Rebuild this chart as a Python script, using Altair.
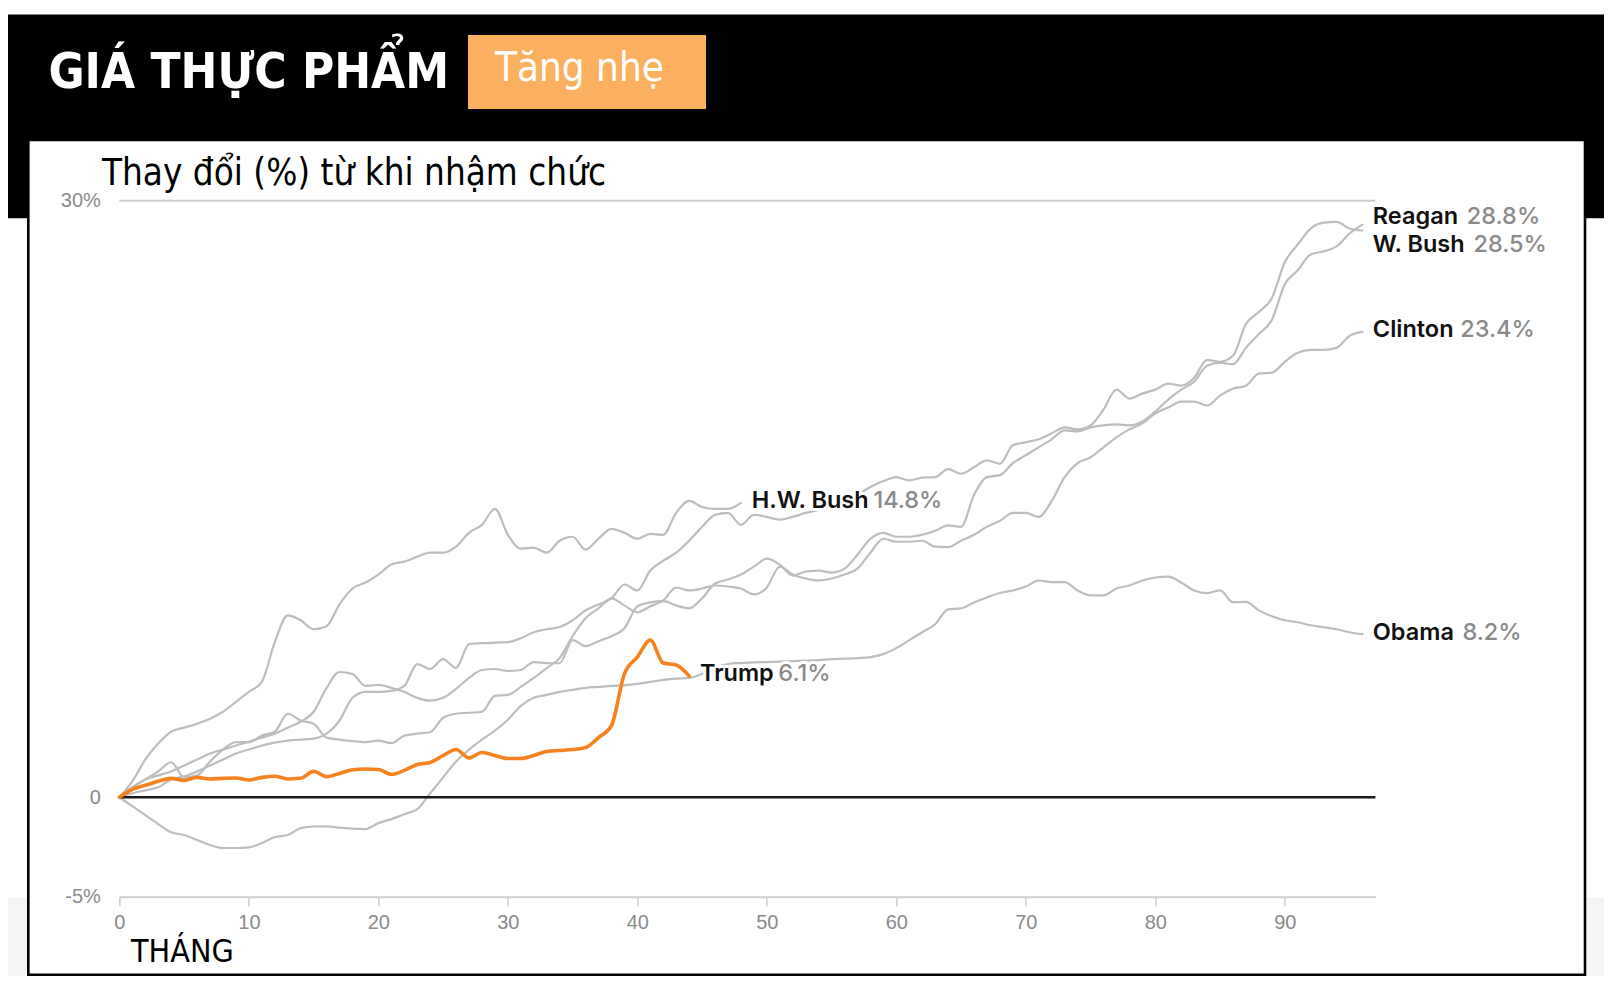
import altair as alt
import pandas as pd

# ---------------- data ----------------
names = ["Reagan", "W. Bush", "Clinton", "Obama", "H.W. Bush", "Trump"]

reagan = [0, 0.5, 0.9, 1.1, 1.3, 1.6, 1.9, 2.2, 2.4, 2.6,
          2.8, 3.0, 3.2, 3.5, 3.8, 4.3, 5.5, 6.3, 6.2, 5.6,
          5.65, 5.5, 5.3, 5.0, 4.86, 5.0, 5.45, 6.0, 6.4, 6.45,
          6.35, 6.4, 6.8, 6.75, 6.74, 7.9, 7.6, 7.85, 8.1, 8.5,
          9.6, 9.8, 9.86, 9.65, 9.5, 10.0, 10.75, 10.95, 11.2, 11.6,
          12.0, 11.7, 11.15, 11.35, 11.4, 11.3, 11.5, 12.2, 13.0, 13.3,
          13.1, 13.1, 13.2, 13.4, 13.67, 13.6, 15.2, 16.1, 16.2, 16.8,
          17.2, 17.6, 18.0, 18.45, 18.4, 18.6, 18.7, 18.75, 18.7, 18.9,
          19.4, 20.0, 20.5, 20.9, 21.7, 21.85, 21.78, 22.6, 23.3, 24.0,
          25.8, 26.5, 27.3, 27.45, 27.7, 28.35, 28.8]

wbush = [0, 0.2, 0.35, 0.5, 0.9, 1.05, 1.3, 1.6, 1.9, 2.2,
         2.4, 2.6, 2.75, 2.85, 2.9, 2.95, 3.2, 3.86, 5.0, 5.3,
         5.3, 5.35, 5.6, 6.7, 6.45, 6.95, 6.5, 7.7, 7.75, 7.78,
         7.8, 8.0, 8.3, 8.45, 8.56, 8.9, 9.4, 9.7, 10.0, 10.7,
         10.4, 11.4, 11.9, 12.3, 12.9, 13.6, 14.2, 14.3, 13.7, 14.2,
         14.1, 13.96, 14.1, 14.3, 14.45, 14.6, 14.8, 15.2, 15.6, 15.9,
         16.1, 15.94, 16.07, 16.1, 16.5, 16.27, 16.6, 16.94, 16.77, 17.7,
         17.85, 18.0, 18.3, 18.6, 18.5, 18.7, 19.5, 20.5, 20.05, 20.3,
         20.5, 20.8, 20.7, 21.1, 22.0, 21.9, 22.2, 23.8, 24.4, 25.1,
         26.9, 27.8, 28.6, 28.9, 28.94, 28.6, 28.5]

clinton = [0, 0.5, 0.9, 1.3, 1.76, 1.0, 1.1, 1.8, 2.4, 2.77,
           2.77, 3.1, 3.3, 4.2, 3.86, 3.7, 3.0, 2.9, 2.82, 2.77,
           2.85, 2.72, 3.1, 3.2, 3.27, 4.0, 4.2, 4.25, 4.3, 5.1,
           5.15, 5.55, 6.0, 6.5, 7.0, 8.1, 9.0, 9.5, 10.0, 9.65,
           9.3, 9.6, 9.9, 10.55, 10.4, 10.5, 10.65, 10.6, 10.5, 10.2,
           10.55, 11.6, 11.2, 11.0, 10.9, 11.0, 11.2, 11.5, 12.3, 13.0,
           12.85, 12.85, 12.9, 12.6, 12.58, 12.9, 13.2, 13.6, 13.9, 14.3,
           14.3, 14.1, 14.9, 16.1, 16.8, 17.1, 17.6, 18.1, 18.5, 18.8,
           19.3, 19.6, 19.9, 19.9, 19.7, 20.2, 20.55, 20.7, 21.3, 21.35,
           21.9, 22.35, 22.5, 22.5, 22.6, 23.2, 23.4]

obama = [0, -0.45, -0.9, -1.35, -1.76, -1.9, -2.15, -2.4, -2.55, -2.55,
         -2.52, -2.3, -2.0, -1.9, -1.55, -1.47, -1.46, -1.53, -1.58, -1.6,
         -1.3, -1.1, -0.85, -0.6, 0.2, 1.0, 1.8, 2.4, 2.9, 3.35,
         3.9, 4.6, 5.0, 5.15, 5.3, 5.4, 5.5, 5.55, 5.6, 5.63,
         5.7, 5.8, 5.9, 5.97, 6.0, 6.2, 6.5, 6.7, 6.75, 6.78,
         6.8, 6.82, 6.85, 6.87, 6.9, 6.95, 6.97, 7.0, 7.05, 7.2,
         7.5, 7.9, 8.3, 8.7, 9.45, 9.5, 9.8, 10.05, 10.27, 10.4,
         10.6, 10.9, 10.82, 10.82, 10.4, 10.15, 10.15, 10.5, 10.65, 10.9,
         11.05, 11.1, 10.8, 10.4, 10.27, 10.4, 9.81, 9.83, 9.4, 9.1,
         8.9, 8.8, 8.65, 8.55, 8.45, 8.3, 8.2]

hwbush = [0, 0.8, 1.9, 2.7, 3.3, 3.5, 3.7, 3.95, 4.3, 4.8,
          5.3, 5.8, 7.8, 9.15, 8.9, 8.45, 8.6, 9.7, 10.5, 10.8,
          11.2, 11.7, 11.85, 12.1, 12.3, 12.3, 12.6, 13.3, 13.7, 14.5,
          13.2, 12.5, 12.55, 12.3, 12.9, 13.1, 12.45, 13.0, 13.5, 13.3,
          13.0, 13.25, 13.2, 14.3, 14.9, 14.6, 14.5, 14.5, 14.8]

trump = [0, 0.4, 0.6, 0.8, 0.95, 0.85, 1.0, 0.92, 0.95, 0.97,
         0.87, 1.0, 1.06, 0.92, 0.96, 1.3, 1.04, 1.2, 1.38, 1.42,
         1.4, 1.15, 1.35, 1.65, 1.75, 2.1, 2.4, 1.98, 2.25, 2.1,
         1.95, 1.95, 2.1, 2.3, 2.35, 2.4, 2.5, 3.0, 3.6, 6.2,
         7.05, 7.9, 6.75, 6.65, 6.1]

series_values = [reagan, wbush, clinton, obama, hwbush, trump]

# end labels: name, value text, anchor month / level, month where the value text starts
label_names = ["Reagan", "W. Bush", "Clinton", "Obama", "H.W. Bush", "Trump"]
label_texts = ["28.8%", "28.5%", "23.4%", "8.2%", "14.8%", "6.1%"]
label_month = [96.8, 96.8, 96.8, 96.8, 48.84, 44.84]
label_level = [28.81, 27.43, 23.15, 7.89, 14.54, 5.84]
label_pct_month = [104.06, 104.57, 103.55, 103.72, 58.23, 50.89]

x_ticks = [0, 10, 20, 30, 40, 50, 60, 70, 80, 90]
y_ticks = [-5, 0, 30]

title_text = "GIÁ THỰC PHẨM"
tag_text = "Tăng nhẹ"
subtitle_text = "Thay đổi (%) từ khi nhậm chức"
xtitle_text = "THÁNG"

# ---------------- layout ----------------
W, H = 1256, 696
PAD_L, PAD_T = 111.4, 192.7
TOTAL_W, TOTAL_H = 1596, 968
PAD_R = TOTAL_W - PAD_L - W
PAD_B = TOTAL_H - PAD_T - H

COND = "DejaVu Sans Condensed, Liberation Sans Narrow, sans-serif"
SANS = "Liberation Sans, Arial, Helvetica, sans-serif"
LABEL_FONT = "Inter, Roboto, Liberation Sans, sans-serif"
TITLE_FONT = "DejaVu Sans Condensed, DejaVu Sans, sans-serif"

rows = []
for nm, vals in zip(names, series_values):
    for m, v in enumerate(vals):
        rows.append({"month": m, "value": v, "name": nm})
df = pd.DataFrame(rows)

name_df = pd.DataFrame({"txt": label_names, "month": label_month, "value": label_level})
pct_df = pd.DataFrame({"txt": label_texts, "month": label_pct_month, "value": label_level})
refs = pd.DataFrame({"value": [30, 0], "month": [0, 0], "month_end": [97, 97]})

xs = alt.Scale(domain=[0, 97], nice=False, zero=False)
ys = alt.Scale(domain=[-5, 30], nice=False, zero=False)

X = alt.X("month:Q", scale=xs, axis=alt.Axis(
    values=x_ticks, title=None, grid=False, domainColor="#cccccc", domainWidth=2,
    tickColor="#cccccc", tickWidth=1.5, tickSize=9, labelColor="#8a8a8a",
    labelFont=SANS, labelFontSize=20, labelPadding=7, labelFlush=False, zindex=2))
Y = alt.Y("value:Q", scale=ys, axis=alt.Axis(
    values=y_ticks, title=None, grid=False, domain=False, ticks=False,
    labelColor="#8a8a8a", labelFont=SANS, labelFontSize=20, labelPadding=19, zindex=2,
    labelExpr="datum.value == 30 ? '30%' : (datum.value == 0 ? '0' : '-5%')"))

one = alt.Data(values=[{}])

band = alt.Chart(one).mark_rect(color="black").encode(
    x=alt.value(-PAD_L), x2=alt.value(W + PAD_R), y=alt.value(-186.3), y2=alt.value(17.5))
floor = alt.Chart(one).mark_rect(color="#f4f4f4").encode(
    x=alt.value(-PAD_L), x2=alt.value(W + PAD_R), y=alt.value(696.9), y2=alt.value(H + PAD_B))
box = alt.Chart(one).mark_rect(fill="white", stroke="black", strokeWidth=2.6).encode(
    x=alt.value(-91.1), x2=alt.value(1465.6), y=alt.value(-60.7), y2=alt.value(774))
tag = alt.Chart(one).mark_rect(color="#fab05f").encode(
    x=alt.value(348.6), x2=alt.value(586.6), y=alt.value(-165.7), y2=alt.value(-91.7))

title = alt.Chart(one).mark_text(text=title_text, font=TITLE_FONT, fontSize=49, fontWeight="bold",
                                 color="white", align="left", baseline="alphabetic").encode(
    x=alt.value(-71), y=alt.value(-112.5))
tagt = alt.Chart(one).mark_text(text=tag_text, font=COND, fontSize=40, color="white",
                                align="left", baseline="alphabetic").encode(
    x=alt.value(375.6), y=alt.value(-119.5))
sub = alt.Chart(one).mark_text(text=subtitle_text, font=COND, fontSize=36.5, color="black",
                               align="left", baseline="alphabetic").encode(
    x=alt.value(-17.4), y=alt.value(-15.4))
xt = alt.Chart(one).mark_text(text=xtitle_text, font=COND, fontSize=32, color="black",
                              align="left", baseline="alphabetic").encode(
    x=alt.value(11.6), y=alt.value(761.7))

grid30 = alt.Chart(refs).transform_filter("datum.value == 30").mark_rule(
    color="#cccccc", strokeWidth=2).encode(x=X, x2="month_end:Q", y=Y)
zero = alt.Chart(refs).transform_filter("datum.value == 0").mark_rule(
    color="#1a1a1a", strokeWidth=2.5).encode(x=X, x2="month_end:Q", y=Y)

gray = alt.Chart(df).transform_filter("datum.name != 'Trump'").mark_line(
    color="#bdbdbd", strokeWidth=2.2, interpolate="monotone", strokeCap="round").encode(
    x=X, y=Y, detail="name:N", order="month:Q")
orange = alt.Chart(df).transform_filter("datum.name == 'Trump'").mark_line(
    color="#f5821f", strokeWidth=3.6, interpolate="monotone", strokeCap="round",
    strokeJoin="round").encode(x=X, y=Y, order="month:Q")

FS = 23.5
name_halo = alt.Chart(name_df).mark_text(
    font=LABEL_FONT, fontSize=FS, fontWeight=600, align="left", baseline="alphabetic",
    color="white", stroke="white", strokeWidth=6, strokeJoin="round").encode(x=X, y=Y, text="txt:N")
pct_halo = alt.Chart(pct_df).mark_text(
    font=LABEL_FONT, fontSize=FS, fontWeight=500, align="left", baseline="alphabetic",
    color="white", stroke="white", strokeWidth=6, strokeJoin="round").encode(x=X, y=Y, text="txt:N")
name_t = alt.Chart(name_df).mark_text(
    font=LABEL_FONT, fontSize=FS, fontWeight=600, align="left", baseline="alphabetic",
    color="#111111").encode(x=X, y=Y, text="txt:N")
pct_t = alt.Chart(pct_df).mark_text(
    font=LABEL_FONT, fontSize=FS, fontWeight=500, align="left", baseline="alphabetic",
    color="#8a8a8a").encode(x=X, y=Y, text="txt:N")

chart = alt.layer(
    band, floor, box, tag, title, tagt, sub, xt,
    grid30, gray, zero, orange, name_halo, pct_halo, name_t, pct_t
).resolve_scale(x="shared", y="shared").properties(
    width=W, height=H,
    padding={"left": PAD_L, "top": PAD_T, "right": PAD_R, "bottom": PAD_B},
    autosize=alt.AutoSizeParams(type="none"),
    background="white",
).configure_view(stroke=None)

chart.save("out.html", embed_options={"renderer": "svg", "actions": False})
